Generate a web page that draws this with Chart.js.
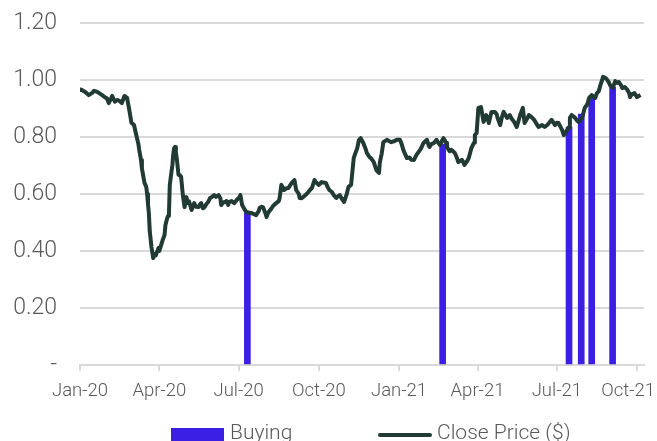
<!DOCTYPE html>
<html lang="en">
<head>
    <meta charset="UTF-8">
    <title>Close Price and Buying</title>
    <script src="https://cdn.jsdelivr.net/npm/chart.js"></script>
    <style>
        body {
            margin: 0;
            background: #fff;
            font-family: 'Roboto', sans-serif;
        }
        #wrap {
            position: relative;
            width: 657px;
            height: 441px;
            overflow: hidden;
        }
        #legend {
            position: absolute;
            left: 171px;
            top: 422px;
            display: flex;
            font-size: 21px;
            font-weight: 300;
            line-height: 21px;
            color: #595959;
            white-space: nowrap;
        }
        #legend .item {
            display: flex;
            align-items: center;
            min-width: 207px;
        }
        #legend .swatch {
            position: relative;
            top: 2px;
            margin-right: 6px;
        }
    </style>
</head>
<body>
    <div id="wrap">
        <canvas id="priceChart"></canvas>
        <div id="legend"></div>
    </div>
    <script>
        // days counted from 1 Jan 2020
        const priceDays = [
            0, 1, 6, 10, 14, 16, 20, 22, 25, 28,
            31, 33, 37, 39, 40, 43, 45, 48, 51, 54,
            56, 59, 62, 64, 67, 68, 70, 71, 74, 76,
            77, 78, 79, 80, 82, 84, 85, 87, 90, 91,
            93, 95, 97, 98, 100, 101, 102, 103, 105, 106,
            107, 108, 109, 110, 111, 113, 115, 116, 118, 120,
            122, 124, 125, 128, 130, 131, 133, 136, 138, 139,
            141, 143, 145, 147, 149, 151, 154, 156, 159, 161,
            162, 164, 166, 168, 170, 171, 174, 177, 180, 183,
            184, 186, 189, 191, 193, 197, 199, 202, 205, 206,
            208, 210, 213, 214, 216, 220, 222, 225, 228, 229,
            231, 233, 234, 237, 239, 241, 243, 246, 248, 251,
            252, 254, 256, 260, 262, 264, 266, 269, 271, 274,
            277, 279, 282, 284, 286, 289, 291, 294, 295, 298,
            300, 303, 306, 308, 311, 314, 316, 318, 320, 322,
            325, 328, 329, 332, 334, 337, 340, 343, 344, 346,
            348, 352, 355, 357, 361, 363, 367, 369, 371, 375,
            378, 380, 383, 386, 390, 392, 394, 398, 400, 401,
            403, 406, 409, 411, 413, 415, 417, 420, 421, 424,
            426, 430, 432, 434, 438, 440, 441, 444, 446, 449,
            452, 453, 455, 457, 460, 462, 463, 466, 468, 469,
            471, 472, 476, 478, 479, 482, 484, 486, 490, 493,
            495, 498, 501, 505, 508, 510, 513, 515, 518, 521,
            524, 526, 530, 533, 536, 538, 541, 545, 547, 549,
            553, 555, 559, 561, 562, 564, 568, 570, 572, 576,
            579, 582, 584, 587, 591, 593, 595, 597, 599, 600,
            601, 603, 605, 607, 608, 611, 614, 616, 618, 621,
            622, 625, 628, 630, 631, 633, 636, 639, 643
        ];
        const closePrice = [
            0.965, 0.967, 0.958, 0.947, 0.955, 0.962, 0.958, 0.954, 0.948, 0.941,
            0.935, 0.919, 0.944, 0.930, 0.924, 0.930, 0.927, 0.919, 0.944, 0.937,
            0.905, 0.850, 0.842, 0.814, 0.775, 0.754, 0.719, 0.690, 0.639, 0.625,
            0.600, 0.565, 0.533, 0.470, 0.414, 0.375, 0.390, 0.385, 0.410, 0.400,
            0.420, 0.440, 0.456, 0.491, 0.515, 0.523, 0.526, 0.632, 0.680, 0.702,
            0.740, 0.761, 0.765, 0.745, 0.726, 0.667, 0.665, 0.660, 0.596, 0.554,
            0.589, 0.568, 0.575, 0.544, 0.560, 0.568, 0.555, 0.554, 0.565, 0.568,
            0.550, 0.554, 0.565, 0.572, 0.585, 0.589, 0.596, 0.590, 0.596, 0.585,
            0.561, 0.570, 0.572, 0.575, 0.562, 0.572, 0.575, 0.568, 0.580, 0.589,
            0.596, 0.561, 0.545, 0.537, 0.535, 0.533, 0.530, 0.526, 0.540, 0.551,
            0.555, 0.554, 0.530, 0.519, 0.535, 0.551, 0.560, 0.568, 0.575, 0.586,
            0.632, 0.620, 0.614, 0.620, 0.621, 0.630, 0.639, 0.649, 0.614, 0.600,
            0.586, 0.585, 0.589, 0.600, 0.607, 0.615, 0.621, 0.649, 0.640, 0.632,
            0.642, 0.640, 0.639, 0.625, 0.614, 0.607, 0.596, 0.586, 0.590, 0.596,
            0.585, 0.572, 0.600, 0.625, 0.632, 0.726, 0.744, 0.760, 0.790, 0.796,
            0.779, 0.755, 0.744, 0.730, 0.725, 0.712, 0.684, 0.674, 0.712, 0.740,
            0.782, 0.790, 0.785, 0.782, 0.786, 0.790, 0.790, 0.775, 0.754, 0.726,
            0.728, 0.720, 0.719, 0.737, 0.754, 0.765, 0.779, 0.790, 0.770, 0.765,
            0.775, 0.779, 0.790, 0.780, 0.772, 0.785, 0.796, 0.780, 0.765, 0.750,
            0.755, 0.744, 0.730, 0.712, 0.720, 0.710, 0.702, 0.715, 0.726, 0.761,
            0.780, 0.807, 0.814, 0.902, 0.905, 0.870, 0.853, 0.877, 0.860, 0.849,
            0.875, 0.888, 0.888, 0.880, 0.867, 0.842, 0.870, 0.888, 0.867, 0.877,
            0.865, 0.853, 0.835, 0.877, 0.902, 0.849, 0.865, 0.877, 0.870, 0.860,
            0.845, 0.835, 0.842, 0.835, 0.842, 0.849, 0.860, 0.842, 0.850, 0.849,
            0.825, 0.807, 0.825, 0.835, 0.867, 0.877, 0.867, 0.858, 0.853, 0.867,
            0.902, 0.915, 0.937, 0.947, 0.937, 0.954, 0.960, 0.982, 1.000, 1.011,
            1.011, 1.007, 1.000, 0.990, 0.982, 0.972, 0.996, 0.990, 0.993, 0.980,
            0.972, 0.975, 0.965, 0.954, 0.940, 0.950, 0.954, 0.940, 0.947
        ];

        // buying days and the price paid
        const buyDays = [192, 416, 561, 575, 587, 611];
        const buyPrice = [0.535, 0.775, 0.835, 0.880, 0.940, 0.975];

        // x axis ticks (first of each quarter)
        const tickDays = [0, 91, 182, 274, 366, 456, 547, 639];
        const tickLabels = ['Jan-20', 'Apr-20', 'Jul-20', 'Oct-20', 'Jan-21', 'Apr-21', 'Jul-21', 'Oct-21'];

        const barColor = '#3b1fe4';
        const lineColor = '#213a33';
        const gridColor = '#d9d9d9';
        const textColor = '#595959';

        Chart.defaults.font.family = 'Roboto';
        Chart.defaults.font.weight = '300';
        Chart.defaults.color = textColor;

        // keep the last x label inside the canvas instead of cutting it off
        const keepLastLabelIn = {
            id: 'keepLastLabelIn',
            beforeDraw(chart) {
                const scale = chart.scales.x;
                const items = scale.getLabelItems();
                const last = items[items.length - 1];
                if (!last) return;
                chart.ctx.save();
                chart.ctx.font = last.font.string;
                const w = chart.ctx.measureText(last.label).width;
                chart.ctx.restore();
                const maxX = chart.width - 2 - w / 2;
                if (last.options.translation[0] > maxX) {
                    last.options.translation[0] = maxX;
                }
            }
        };

        const ctx = document.getElementById('priceChart').getContext('2d');
        const chart = new Chart(ctx, {
            type: 'line',
            data: {
                datasets: [
                    {
                        type: 'bar',
                        label: 'Buying',
                        data: buyDays.map((d, i) => ({ x: d, y: buyPrice[i] })),
                        backgroundColor: barColor,
                        barThickness: 6,
                        grouped: false,
                        order: 1
                    },
                    {
                        type: 'line',
                        label: 'Close Price ($)',
                        data: priceDays.map((d, i) => ({ x: d, y: closePrice[i] })),
                        borderColor: lineColor,
                        borderWidth: 4,
                        pointRadius: 0,
                        tension: 0,
                        borderJoinStyle: 'round',
                        order: 0
                    }
                ]
            },
            plugins: [keepLastLabelIn],
            options: {
                responsive: true,
                maintainAspectRatio: false,
                animation: false,
                layout: { padding: { top: 23, right: 13, bottom: 0, left: 0 } },
                plugins: {
                    legend: { display: false },
                    tooltip: { enabled: false }
                },
                scales: {
                    x: {
                        type: 'linear',
                        min: 0,
                        max: 647,
                        offset: false,
                        afterBuildTicks: scale => {
                            scale.ticks = tickDays.map(v => ({ value: v }));
                        },
                        afterFit: scale => {
                            scale.paddingLeft = 0;
                            scale.paddingRight = 0;
                            scale.height = 76;
                        },
                        ticks: {
                            autoSkip: false,
                            maxRotation: 0,
                            minRotation: 0,
                            padding: 9,
                            font: { size: 18.5 },
                            callback: (value, index) => tickLabels[index]
                        },
                        grid: {
                            offset: false,
                            drawOnChartArea: false,
                            drawTicks: true,
                            tickLength: 6,
                            color: gridColor,
                            lineWidth: 2
                        },
                        border: { color: gridColor, width: 2 }
                    },
                    y: {
                        min: 0,
                        max: 1.2,
                        afterFit: scale => {
                            scale.width = 80;
                            scale.paddingTop = 0;
                            scale.paddingBottom = 0;
                        },
                        ticks: {
                            stepSize: 0.2,
                            padding: 23,
                            font: { size: 23 },
                            callback: v => (Math.abs(v) < 1e-9 ? '-' : v.toFixed(2))
                        },
                        grid: {
                            drawTicks: false,
                            color: gridColor,
                            lineWidth: 2
                        },
                        border: { display: false }
                    }
                }
            }
        });

        // legend drawn as html so the item spacing can be set freely
        const legendEl = document.getElementById('legend');
        chart.data.datasets.forEach(ds => {
            const item = document.createElement('div');
            item.className = 'item';
            const swatch = document.createElement('span');
            swatch.className = 'swatch';
            if (ds.type === 'bar') {
                swatch.style.cssText += 'width:53px;height:14px;background:' + ds.backgroundColor;
            } else {
                swatch.style.cssText += 'width:54px;height:4px;border-radius:2px;margin-right:5px;background:' + ds.borderColor;
            }
            item.appendChild(swatch);
            item.appendChild(document.createTextNode(ds.label));
            legendEl.appendChild(item);
        });
    </script>
</body>
</html>
